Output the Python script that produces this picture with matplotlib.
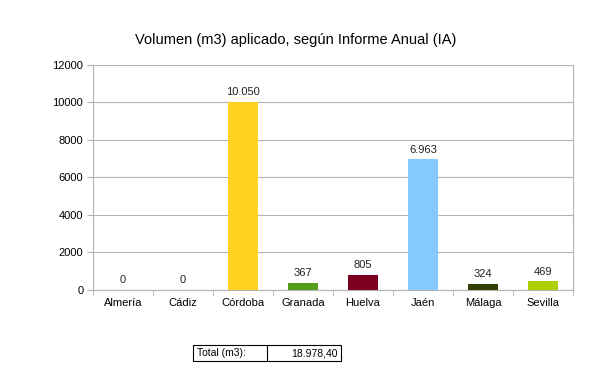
import numpy as np
import matplotlib.pyplot as plt
from matplotlib.patches import Rectangle
from matplotlib.lines import Line2D

plt.rcParams['font.family'] = ['Liberation Sans', 'DejaVu Sans']

provincias = ['Almería', 'Cádiz', 'Córdoba', 'Granada', 'Huelva', 'Jaén', 'Málaga', 'Sevilla']
volumen = [0, 0, 10050, 367, 805, 6963, 324, 469]
colores = ['#004586', '#ff420e', '#ffd320', '#579d1c', '#7e0021', '#83caff', '#314004', '#aecf00']
total_txt = '18.978,40'


def fmt_es(v):
    return '{:,}'.format(v).replace(',', '.')


fig = plt.figure(figsize=(6, 3.77), dpi=100)
ax = fig.add_axes([0.155, 0.2308, 0.80, 0.5968])

x = np.arange(len(provincias))
ax.bar(x, volumen, width=0.5, color=colores, zorder=3)
for xi, v in zip(x, volumen):
    ax.text(xi, v + 250, fmt_es(v), ha='center', va='bottom', fontsize=8, color='#222222')

ax.set_xlim(-0.5, len(provincias) - 0.5)
ax.set_ylim(0, 12000)
ax.set_yticks(np.arange(0, 12001, 2000))
ax.set_xticks(x)
ax.set_xticklabels(provincias, fontsize=8)
ax.set_xticks(np.arange(-0.5, len(provincias), 1), minor=True)
ax.tick_params(axis='x', which='major', length=0, pad=6)
ax.tick_params(axis='x', which='minor', length=4, color='#b3b3b3', direction='out')
ax.tick_params(axis='y', length=4, color='#b3b3b3', labelsize=8, pad=3)
ax.grid(axis='y', color='#b3b3b3', linewidth=0.8, zorder=0)
for s in ax.spines.values():
    s.set_color('#b3b3b3')
    s.set_linewidth(0.8)
ax.spines['top'].set_visible(False)

fig.text(0.492, 0.895, 'Volumen (m3) aplicado, según Informe Anual (IA)',
         ha='center', va='center', fontsize=10.5)

# cuadro del total
x0, x1, xm = 193 / 600, 341 / 600, 267 / 600
y0, y1 = 1 - 361 / 377, 1 - 345 / 377
fig.patches.append(Rectangle((x0, y0), x1 - x0, y1 - y0, transform=fig.transFigure,
                             fill=False, edgecolor='black', linewidth=0.8))
fig.lines.append(Line2D([xm, xm], [y0, y1], transform=fig.transFigure,
                        color='black', linewidth=0.8))
fig.text(x0 + 0.006, (y0 + y1) / 2, 'Total (m3):', ha='left', va='center', fontsize=7.5)
fig.text(x1 - 0.006, (y0 + y1) / 2, total_txt, ha='right', va='center', fontsize=7.5)

fig.savefig('out.png', dpi=100)
